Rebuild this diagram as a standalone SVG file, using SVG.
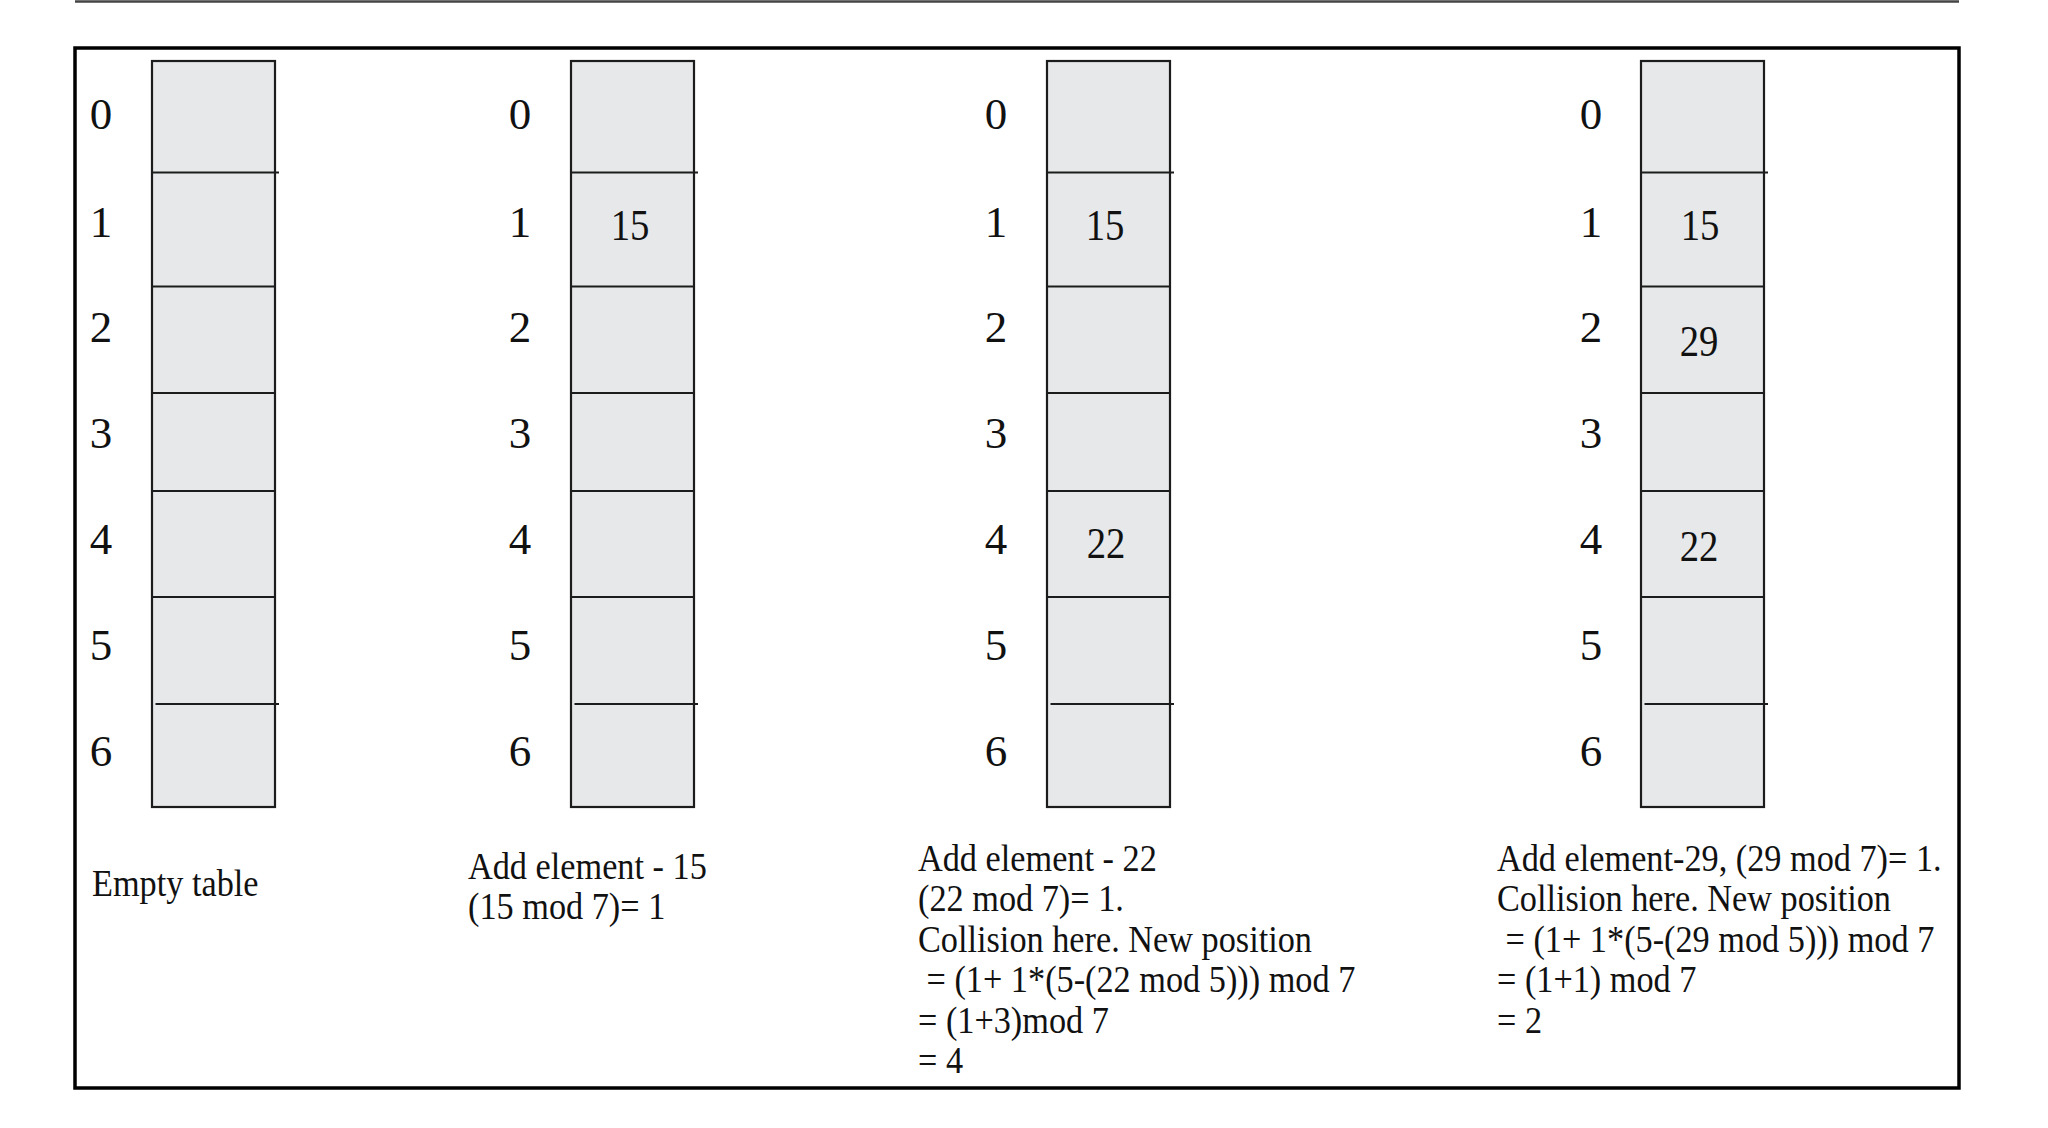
<svg xmlns="http://www.w3.org/2000/svg" width="2048" height="1128" viewBox="0 0 2048 1128">
<style>
.frame{fill:none;stroke:#000;stroke-width:3.5}
.topline{stroke:#444;stroke-width:2.5}
.tbl{fill:#e6e8e9;stroke:#1c1c1c;stroke-width:2.2}
.row{stroke:#1c1c1c;stroke-width:2.2}
.idx{font-family:"Liberation Serif","Times New Roman",serif;font-size:45px;fill:#111;text-anchor:middle}
.val{font-family:"Liberation Serif","Times New Roman",serif;font-size:44px;fill:#111;text-anchor:middle}
.cap{font-family:"Liberation Serif","Times New Roman",serif;font-size:38.5px;fill:#111}
</style>
<defs>
<g id="rows">
<line class="row" x1="0" y1="111.5" x2="127" y2="111.5"/>
<line class="row" x1="0" y1="225.5" x2="123" y2="225.5"/>
<line class="row" x1="0" y1="332" x2="123" y2="332"/>
<line class="row" x1="0" y1="430" x2="123" y2="430"/>
<line class="row" x1="0" y1="536" x2="123" y2="536"/>
<line class="row" x1="3.5" y1="643" x2="127" y2="643"/>
</g>
<g id="idxcol">
<text class="idx" x="0" y="129">0</text>
<text class="idx" x="0" y="237">1</text>
<text class="idx" x="0" y="342">2</text>
<text class="idx" x="0" y="448">3</text>
<text class="idx" x="0" y="554">4</text>
<text class="idx" x="0" y="660">5</text>
<text class="idx" x="0" y="766">6</text>
</g>
</defs>
<line class="topline" x1="75" y1="1.5" x2="1959" y2="1.5"/>
<rect class="frame" x="75" y="48" width="1884" height="1040"/>
<g id="connectors"/>
<g id="table-empty">
<rect class="tbl" x="152" y="61" width="123" height="746"/>
<use href="#rows" x="152" y="61"/>
<use href="#idxcol" x="101" y="0"/>
</g>
<g id="table-add15">
<rect class="tbl" x="571" y="61" width="123" height="746"/>
<use href="#rows" x="571" y="61"/>
<use href="#idxcol" x="520" y="0"/>
<text class="val" transform="translate(630,240) scale(0.88,1)">15</text>
</g>
<g id="table-add22">
<rect class="tbl" x="1047" y="61" width="123" height="746"/>
<use href="#rows" x="1047" y="61"/>
<use href="#idxcol" x="996" y="0"/>
<text class="val" transform="translate(1105,240) scale(0.88,1)">15</text>
<text class="val" transform="translate(1106,558) scale(0.88,1)">22</text>
</g>
<g id="table-add29">
<rect class="tbl" x="1641" y="61" width="123" height="746"/>
<use href="#rows" x="1641" y="61"/>
<use href="#idxcol" x="1591" y="0"/>
<text class="val" transform="translate(1700,240) scale(0.88,1)">15</text>
<text class="val" transform="translate(1699,356) scale(0.88,1)">29</text>
<text class="val" transform="translate(1699,561) scale(0.88,1)">22</text>
</g>
<g id="caption-empty" transform="translate(92,896) scale(0.89,1)">
<text class="cap" x="0" y="0">Empty table</text>
</g>
<g id="caption-add15" transform="translate(468,879) scale(0.89,1)">
<text class="cap" x="0" y="0">Add element - 15</text>
<text class="cap" x="0" y="40.5">(15 mod 7)= 1</text>
</g>
<g id="caption-add22" transform="translate(918,871) scale(0.89,1)">
<text class="cap" x="0" y="0">Add element - 22</text>
<text class="cap" x="0" y="40.5">(22 mod 7)= 1.</text>
<text class="cap" x="0" y="81">Collision here. New position</text>
<text class="cap" x="0" y="121.5" xml:space="preserve"> = (1+ 1*(5-(22 mod 5))) mod 7</text>
<text class="cap" x="0" y="162">= (1+3)mod 7</text>
<text class="cap" x="0" y="202.5">= 4</text>
</g>
<g id="caption-add29" transform="translate(1497,871) scale(0.89,1)">
<text class="cap" x="0" y="0">Add element-29, (29 mod 7)= 1.</text>
<text class="cap" x="0" y="40.5">Collision here. New position</text>
<text class="cap" x="0" y="81" xml:space="preserve"> = (1+ 1*(5-(29 mod 5))) mod 7</text>
<text class="cap" x="0" y="121.5">= (1+1) mod 7</text>
<text class="cap" x="0" y="162">= 2</text>
</g>
</svg>
